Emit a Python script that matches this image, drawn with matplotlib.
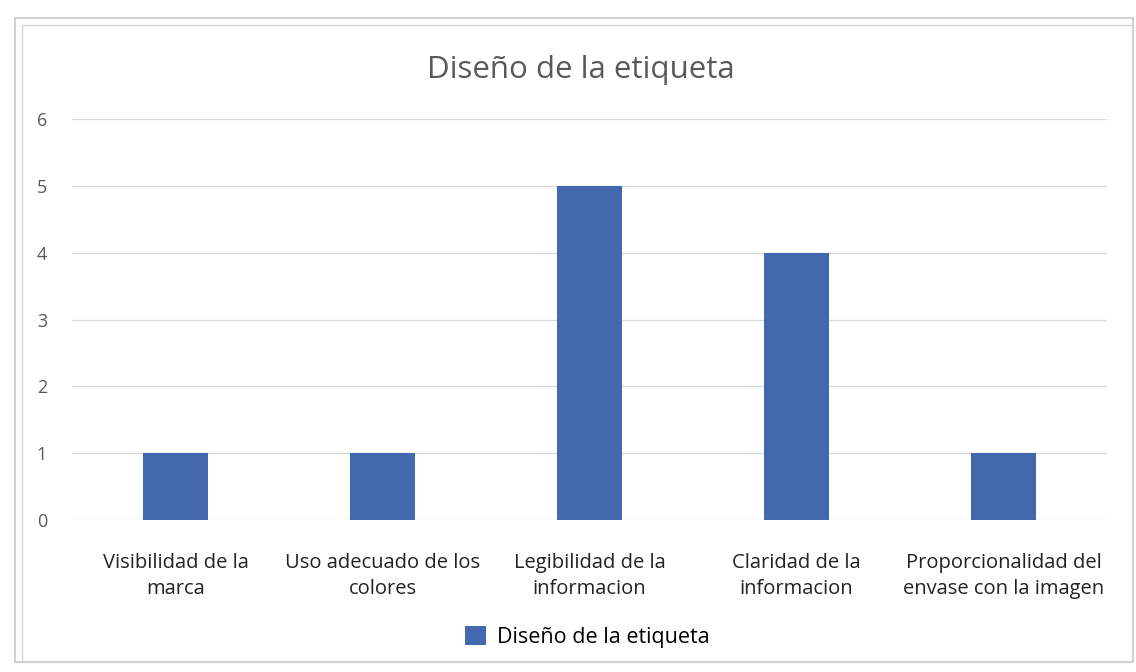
import matplotlib.pyplot as plt
from matplotlib.patches import Rectangle

# Data
categories = ['Visibilidad de la\nmarca', 'Uso adecuado de los\ncolores',
              'Legibilidad de la\ninformacion', 'Claridad de la\ninformacion',
              'Proporcionalidad del\nenvase con la imagen']
values = [1, 1, 5, 4, 1]
series_name = 'Diseño de la etiqueta'
y_ticks = [0, 1, 2, 3, 4, 5, 6]

bar_color = '#4468AE'
plt.rcParams['font.family'] = ['Open Sans', 'DejaVu Sans']

fig = plt.figure(figsize=(11.36, 6.72), dpi=100)
ax = fig.add_axes([0.0634, 0.2262, 0.9111, 0.5967])

x = list(range(len(categories)))
ax.bar(x, values, width=0.314, color=bar_color, label=series_name, zorder=3)

ax.set_xlim(-0.5, len(categories) - 0.5)
ax.set_ylim(0, 6)
ax.set_yticks(y_ticks)
ax.set_xticks(x)
ax.set_xticklabels(categories, fontsize=14.5, color='#222222', linespacing=1.35)
ax.tick_params(axis='y', labelsize=13, labelcolor='#595959', length=0, pad=18)
ax.tick_params(axis='x', length=0, pad=24)
ax.grid(axis='y', color='#d9d9d9', linewidth=1, zorder=0)
for s in ax.spines.values():
    s.set_visible(False)

fig.text(0.511, 0.896, 'Diseño de la etiqueta', ha='center', va='center',
         fontsize=22.5, color='#595959')

leg = fig.legend(loc='center', bbox_to_anchor=(0.517, 0.052), frameon=False,
                 fontsize=15.5, handlelength=1.0, handleheight=1.0, handletextpad=0.5)

# chart frame like the selected Excel chart
fig.patches.append(Rectangle((15 / 1136, 1 - 662 / 672), (1133 - 15) / 1136, (662 - 18) / 672,
                             transform=fig.transFigure, fill=False, edgecolor='#c8c8c8', linewidth=1.2))
fig.patches.append(Rectangle((22 / 1136, 1 - 662 / 672), (1133 - 22) / 1136, (662 - 25) / 672,
                             transform=fig.transFigure, fill=False, edgecolor='#d4d4d4', linewidth=1.0))

fig.savefig('out.png', dpi=100)
